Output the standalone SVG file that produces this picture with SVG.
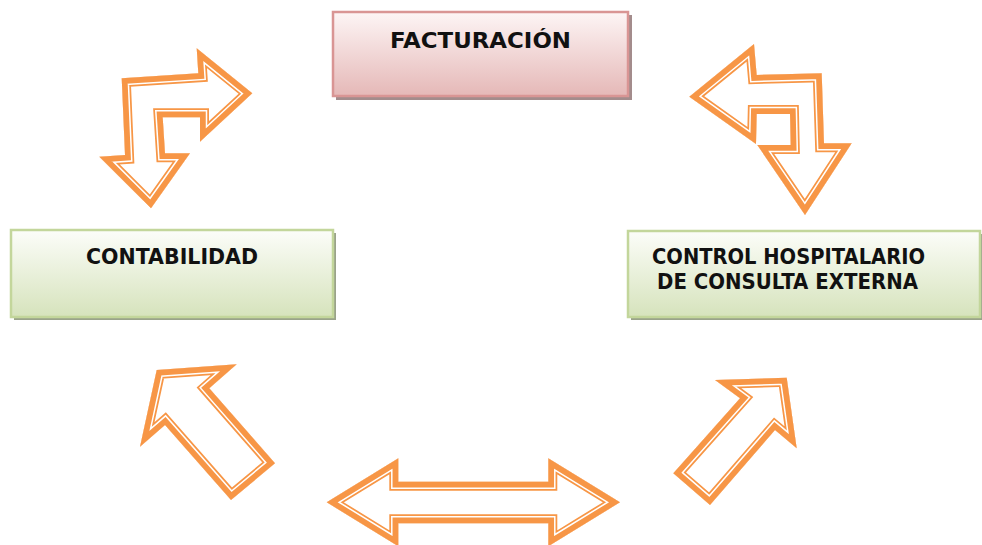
<svg xmlns="http://www.w3.org/2000/svg" xmlns:xlink="http://www.w3.org/1999/xlink" width="982" height="545" viewBox="0 0 982 545">
<style>
.lbl{font-family:"DejaVu Sans","Liberation Sans",sans-serif;font-weight:bold;font-size:22px;fill:#111}
.sm{font-size:21px}
.af{fill:#fff}
.s1{fill:none;stroke:#f79646;stroke-width:18;stroke-linejoin:miter;stroke-miterlimit:10}
.s2{fill:none;stroke:#fff;stroke-width:14.5;stroke-linejoin:miter;stroke-miterlimit:10}
.s3{fill:none;stroke:#f79646;stroke-width:11.5;stroke-linejoin:miter;stroke-miterlimit:10}
.shp{fill:#a38c8c}
.shg{fill:#9aa38a}
</style>
<defs>
<linearGradient id="gp" x1="0" y1="0" x2="0" y2="1">
<stop offset="0" stop-color="#fdf5f5"/>
<stop offset="1" stop-color="#e5b8b7"/>
</linearGradient>
<linearGradient id="gg" x1="0" y1="0" x2="0" y2="1">
<stop offset="0" stop-color="#fcfdf9"/>
<stop offset="1" stop-color="#d6e3bc"/>
</linearGradient>
<polygon id="p1" points="121.7,78.3 198.3,73.3 196.7,48.3 252.3,93.3 200,141.7 200,117.3 162.7,117.3 165,153.3 190,153.3 151,208.3 99.3,156.7 125,155"/>
<polygon id="p2" points="689.3,96.7 754,44 756.7,75 821.7,73.3 824,143.3 851.7,143.3 805,215 757.3,145 790.7,145 790,114 756.7,114 756,144"/>
<polygon id="p3" points="156.7,370 236.7,364.3 209.3,388.3 275,463.3 231,500 165,425 140,446.7"/>
<polygon id="p4" points="786.7,377.7 715,380 740,398.3 673.3,473.3 710,505 775,430 796.7,448.3"/>
<polygon id="p5" points="326.7,502.3 398.3,458.3 398.3,481.7 548.3,481.7 548.3,458.3 620,502.3 548.3,546.3 548.3,523.3 398.3,523.3 398.3,546.3"/>
<clipPath id="c1"><use xlink:href="#p1"/></clipPath>
<clipPath id="c2"><use xlink:href="#p2"/></clipPath>
<clipPath id="c3"><use xlink:href="#p3"/></clipPath>
<clipPath id="c4"><use xlink:href="#p4"/></clipPath>
<clipPath id="c5"><use xlink:href="#p5"/></clipPath>
</defs>
<rect width="982" height="545" fill="#fff"/>
<g id="facturacion">
<rect class="shp" x="336" y="15" width="296" height="85"/>
<rect x="333" y="12" width="295" height="84" fill="url(#gp)" stroke="#d99594" stroke-width="2.5"/>
<text class="lbl" x="390" y="48" textLength="181" lengthAdjust="spacingAndGlyphs">FACTURACIÓN</text>
</g>
<g id="contabilidad">
<rect class="shg" x="14" y="233" width="322" height="87"/>
<rect x="11" y="230" width="322" height="87" fill="url(#gg)" stroke="#c3d69b" stroke-width="2.5"/>
<text class="lbl" x="86" y="264" textLength="172" lengthAdjust="spacingAndGlyphs">CONTABILIDAD</text>
</g>
<g id="control">
<rect class="shg" x="631" y="234" width="352" height="86"/>
<rect x="628" y="231" width="352" height="86" fill="url(#gg)" stroke="#c3d69b" stroke-width="2.5"/>
<text class="lbl sm" x="652" y="264" textLength="273" lengthAdjust="spacingAndGlyphs">CONTROL HOSPITALARIO</text>
<text class="lbl sm" x="657" y="289" textLength="261" lengthAdjust="spacingAndGlyphs">DE CONSULTA EXTERNA</text>
</g>
<g id="connectors">
<g clip-path="url(#c1)"><use xlink:href="#p1" class="af"/><use xlink:href="#p1" class="s1"/><use xlink:href="#p1" class="s2"/><use xlink:href="#p1" class="s3"/></g>
<g clip-path="url(#c2)"><use xlink:href="#p2" class="af"/><use xlink:href="#p2" class="s1"/><use xlink:href="#p2" class="s2"/><use xlink:href="#p2" class="s3"/></g>
<g clip-path="url(#c3)"><use xlink:href="#p3" class="af"/><use xlink:href="#p3" class="s1"/><use xlink:href="#p3" class="s2"/><use xlink:href="#p3" class="s3"/></g>
<g clip-path="url(#c4)"><use xlink:href="#p4" class="af"/><use xlink:href="#p4" class="s1"/><use xlink:href="#p4" class="s2"/><use xlink:href="#p4" class="s3"/></g>
<g clip-path="url(#c5)"><use xlink:href="#p5" class="af"/><use xlink:href="#p5" class="s1"/><use xlink:href="#p5" class="s2"/><use xlink:href="#p5" class="s3"/></g>
</g>
</svg>
